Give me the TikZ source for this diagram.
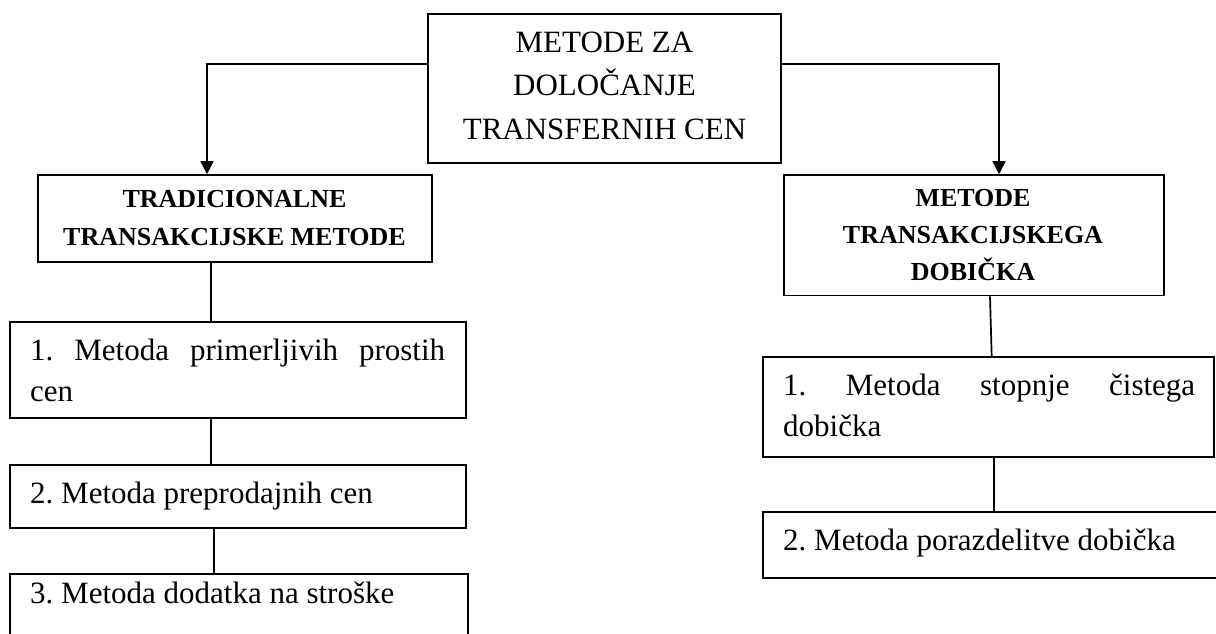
\documentclass[tikz,border=0pt]{standalone}
\usepackage{fontspec}
\setmainfont{Liberation Serif}
\usetikzlibrary{arrows.meta,calc}
\frenchspacing
\tikzset{
  box/.style={draw, rectangle, line width=1.7pt, inner sep=0pt},
  conn/.style={line width=1.7pt},
  arr/.style={conn, -{Triangle[length=13pt,width=13pt]}},
  plain/.style={font=\fontsize{31}{43.5}\selectfont\frenchspacing, inner sep=0pt},
  head/.style={font=\fontsize{26}{37.3}\selectfont\bfseries, inner sep=0pt, align=center, anchor=base},
  item/.style={font=\fontsize{31}{41.7}\selectfont\frenchspacing, inner sep=0pt, align=left, anchor=base west}
}
\begin{document}
\begin{tikzpicture}[x=1pt,y=-1pt]
\useasboundingbox (0,0) rectangle (1216,633);
\clip (0,0) rectangle (1216,633);
% boxes
\node[box, minimum width=353pt, minimum height=149pt] (top) at (604.5,88.5) {};
\node[box, minimum width=394pt, minimum height=87pt] (trad) at (234.8,218.5) {};
\node[box, minimum width=380pt, minimum height=120.5pt] (dob) at (974,235.3) {};
\node[box, minimum width=456pt, minimum height=96pt] (lm1) at (238,370) {};
\node[box, minimum width=456pt, minimum height=63pt] (lm2) at (238,496.5) {};
\node[box, minimum width=458pt, minimum height=86pt] (lm3) at (239,617) {};
\node[box, minimum width=451pt, minimum height=100pt] (rm1) at (988.5,407) {};
\node[box, minimum width=462pt, minimum height=66pt] (rm2) at (994,545) {};
% texts
\node[plain, align=center, anchor=base] (ttop) at (604.5,139) {METODE ZA\\DOLOČANJE\\TRANSFERNIH CEN};
\node[head] (ttrad) at (234.5,245) {TRADICIONALNE\\TRANSAKCIJSKE METODE};
\node[head, font=\fontsize{26}{36.7}\selectfont\bfseries] (tdob) at (973,280) {METODE\\TRANSAKCIJSKEGA\\DOBIČKA};
\node[item, text width=415pt] (tlm1) at (30,360) {1.\hfill Metoda\hfill primerljivih\hfill prostih\\cen};
\node[item] (tlm2) at (30,503) {2. Metoda preprodajnih cen};
\node[item] (tlm3) at (30,603) {3. Metoda dodatka na stroške};
\node[item, text width=412pt] (trm1) at (783,395) {1.\hfill Metoda\hfill stopnje\hfill čistega\\dobička};
\node[item] (trm2) at (783,550) {2. Metoda porazdelitve dobička};
% connectors
\coordinate (cL) at (207,64);
\coordinate (cR) at (999,64);
\draw[arr] (top.west |- cL) -- (cL) -- (cL |- trad.north);
\draw[arr] (top.east |- cR) -- (cR) -- (cR |- dob.north);
\draw[conn] ([xshift=-23.8pt]trad.south) -- ([xshift=-27pt]lm1.north);
\draw[conn] ([xshift=-27pt]lm1.south) -- ([xshift=-27pt]lm2.north);
\draw[conn] ([xshift=-24.3pt]lm2.south) -- ([xshift=-25.3pt]lm3.north);
\draw[conn] ([xshift=16pt]dob.south) -- ([xshift=3.2pt]rm1.north);
\draw[conn] ([xshift=5.5pt]rm1.south) -- (rm2.north);
\end{tikzpicture}
\end{document}
